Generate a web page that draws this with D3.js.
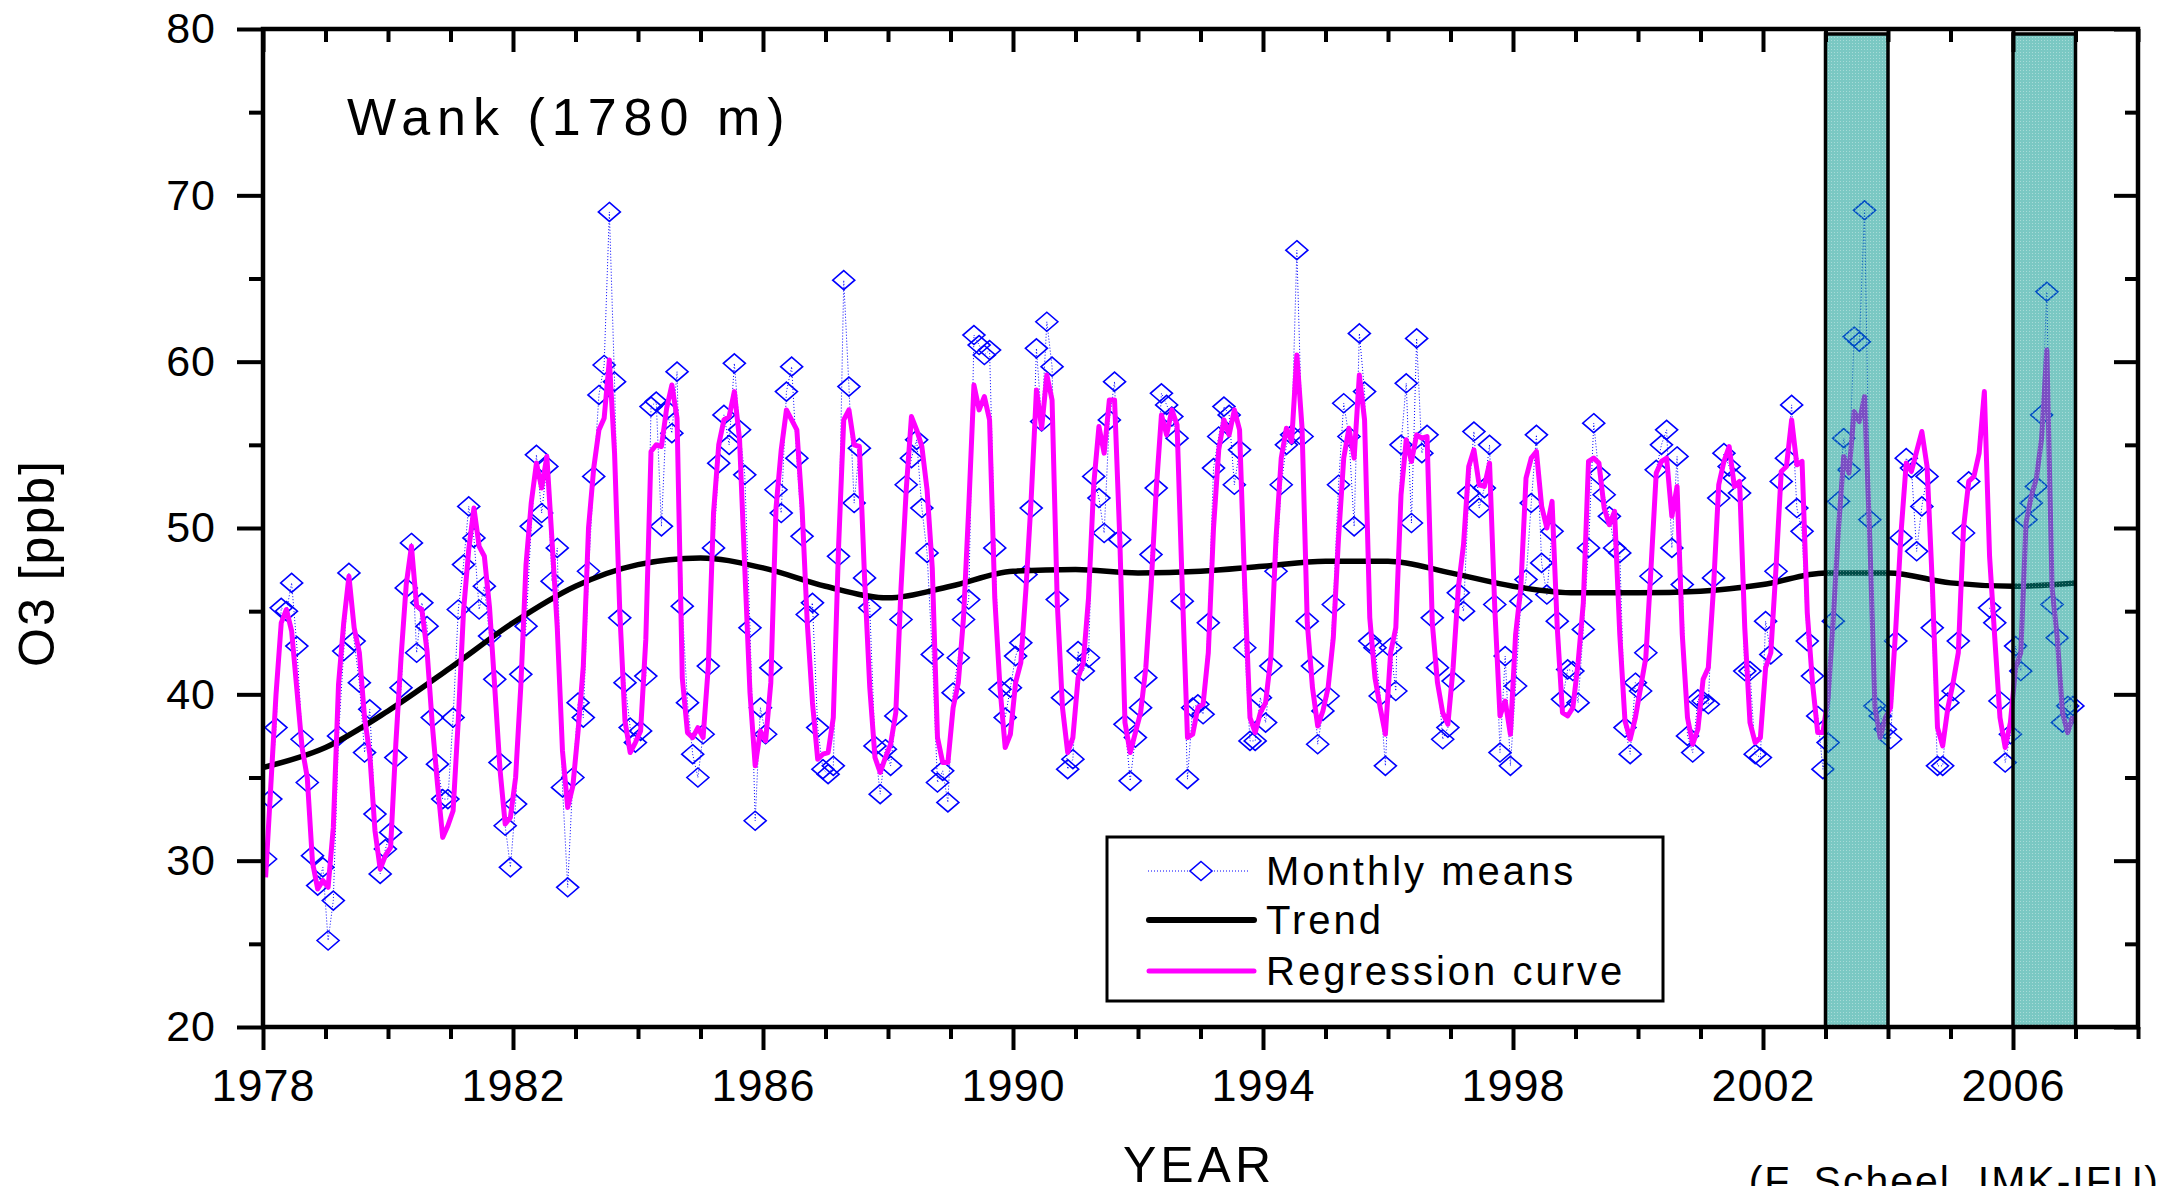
<!DOCTYPE html>
<html><head><meta charset="utf-8">
<script src="https://cdn.jsdelivr.net/npm/d3@7"></script>
<style>
html,body{margin:0;padding:0;background:#fff;}
svg{display:block;}
text{font-family:"Liberation Sans", Arial, sans-serif;fill:#000;}
</style></head><body>
<svg id="chart" width="2167" height="1186"></svg>
<script>
// ---------------- DATA ----------------
const firstYear = 1978;
// monthly means O3 [ppb], one row per year (Jan..Dec), null = no value
const monthlyMeans = [
  [30.1,33.7,38.0,45.2,45.0,46.7,42.9,37.3,34.7,30.3,28.5,29.6], // 1978
  [25.2,27.6,37.5,42.6,47.3,43.2,40.7,36.5,39.1,32.8,29.2,30.7], // 1979
  [31.7,36.2,40.4,46.4,49.1,42.5,45.5,44.1,38.6,35.8,33.7,33.7], // 1980
  [38.6,45.1,47.8,51.3,49.4,45.1,46.5,43.5,40.9,35.9,32.1,29.6], // 1981
  [33.4,41.2,44.1,50.1,54.4,50.9,53.7,46.8,48.8,34.4,28.4,35.0], // 1982
  [39.5,38.6,47.4,53.1,58.0,59.8,69.0,58.8,44.6,40.7,38.0,37.1], // 1983
  [37.8,41.1,57.3,57.6,50.1,57.1,55.7,59.4,45.3,39.5,36.4,35.0], // 1984
  [37.6,41.7,48.8,53.9,56.8,55.0,59.9,55.9,53.2,44.0,32.4,39.2], // 1985
  [37.6,41.6,52.3,50.9,58.2,59.7,54.2,49.5,44.8,45.5,38.0,35.5], // 1986
  [35.2,35.7,48.3,64.9,58.5,51.5,54.8,47.0,45.2,36.9,34.0,36.7], // 1987
  [35.7,38.7,44.5,52.6,54.2,55.3,51.2,48.5,42.4,34.7,35.4,33.5], // 1988
  [40.1,42.2,44.5,45.7,61.6,61.0,60.4,60.7,48.8,40.3,38.6,40.4], // 1989
  [42.3,43.1,47.2,51.2,60.8,56.4,62.4,59.7,45.7,39.8,35.5,36.1], // 1990
  [42.6,41.4,42.2,53.1,51.8,49.7,56.5,58.8,49.3,38.2,34.8,37.4], // 1991
  [39.2,41.0,48.4,52.4,58.1,57.4,56.7,55.4,45.6,34.9,39.2,39.4], // 1992
  [38.8,44.3,53.6,55.5,57.3,56.8,52.6,54.7,42.8,37.2,37.2,39.8], // 1993
  [38.3,41.7,47.4,52.6,55.0,55.6,66.7,55.5,44.4,41.7,37.0,39.0], // 1994
  [39.9,45.4,52.6,57.5,55.5,50.1,61.7,58.2,43.2,42.8,39.9,35.7], // 1995
  [42.8,40.2,55.0,58.7,50.3,61.4,54.5,55.6,44.6,41.6,37.3,38.0], // 1996
  [40.8,46.1,45.0,52.1,55.8,51.2,52.4,55.0,45.4,36.5,42.3,35.7], // 1997
  [40.5,45.6,46.9,51.5,55.6,47.9,46.0,49.8,44.4,39.7,41.5,41.4], // 1998
  [39.5,43.9,48.8,56.3,53.2,52.0,50.7,48.8,48.5,38.0,36.4,40.7], // 1999
  [40.2,42.5,47.1,53.5,55.0,55.9,48.8,54.3,46.6,37.5,36.5,39.7], // 2000
  [39.6,39.4,47.0,51.8,54.5,53.7,53.0,52.1,41.4,41.4,36.4,36.2], // 2001
  [44.4,42.4,47.4,52.8,54.2,57.4,51.2,49.8,43.2,41.1,38.7,35.5], // 2002
  [37.1,44.4,51.6,55.4,53.5,61.5,61.2,69.1,50.5,39.3,38.7,37.9], // 2003
  [37.3,43.2,49.4,54.2,53.6,48.6,51.3,53.1,44.0,35.7,35.7,39.5], // 2004
  [40.2,43.2,49.7,52.8,null,null,null,45.2,44.3,39.6,35.9,37.6], // 2005
  [42.9,41.4,50.5,51.5,52.5,56.8,64.2,45.4,43.4,38.3,39.3,39.3]  // 2006
];
// regression curve, one row per year (Jan..Dec)
const regressionCurve = [
  [29.0,34.5,40.0,44.3,45.1,43.8,40.3,36.8,35.0,29.9,28.3,28.8], // 1978
  [28.4,32.0,40.6,44.3,47.1,44.0,42.5,38.6,36.4,31.8,29.5,30.3], // 1979
  [30.8,37.0,42.2,46.6,48.9,45.3,45.1,42.6,38.2,34.6,31.4,32.1], // 1980
  [33.0,38.5,45.0,48.7,51.2,48.9,48.3,45.2,40.4,35.5,32.2,32.6], // 1981
  [35.0,40.5,47.8,51.5,53.9,52.4,54.3,49.2,44.0,36.6,33.2,34.5], // 1982
  [37.8,41.7,50.0,53.6,55.9,56.6,60.1,54.5,45.0,38.4,36.5,37.1], // 1983
  [37.8,43.3,54.6,55.0,54.9,57.2,58.6,56.6,41.0,37.7,37.4,38.0], // 1984
  [37.4,41.7,50.9,55.0,56.5,56.7,58.2,55.3,47.6,40.1,35.7,37.8], // 1985
  [37.2,40.7,51.2,54.7,57.1,56.5,55.9,51.2,44.3,39.5,36.1,36.4], // 1986
  [36.5,38.6,48.8,56.5,57.1,55.0,54.9,47.0,40.4,36.2,35.3,36.2], // 1987
  [37.0,38.9,46.4,52.3,56.7,55.9,54.9,52.3,47.6,37.4,35.9,35.9], // 1988
  [39.2,40.7,44.6,51.2,58.6,57.1,57.9,56.5,45.8,40.4,36.8,37.6], // 1989
  [40.7,41.9,46.4,51.8,58.3,56.0,59.2,57.7,45.5,39.2,36.5,37.4], // 1990
  [41.0,41.9,45.8,52.6,56.1,54.5,57.7,57.7,49.4,38.3,36.5,37.7], // 1991
  [38.9,41.6,46.4,52.3,56.8,55.6,57.1,56.2,46.4,37.4,37.6,39.2], // 1992
  [39.4,42.5,50.0,54.7,56.5,55.6,57.1,55.9,46.4,38.6,37.7,38.9], // 1993
  [39.5,42.2,49.4,54.2,56.0,55.2,60.4,56.0,44.3,40.4,38.1,39.0], // 1994
  [40.4,43.4,49.4,54.2,56.0,54.2,59.2,56.5,44.6,41.0,39.2,37.6], // 1995
  [42.5,44.0,52.0,55.3,54.0,55.6,55.4,55.5,44.3,40.7,38.9,38.2], // 1996
  [41.6,46.4,49.0,53.7,54.7,52.6,52.5,53.9,45.2,38.7,39.6,37.6], // 1997
  [43.6,46.4,53.0,54.2,54.6,51.3,50.0,51.6,44.0,38.9,38.7,39.2], // 1998
  [41.9,45.5,54.0,54.2,53.9,51.2,50.2,51.0,43.6,38.4,37.3,38.6], // 1999
  [40.4,42.2,47.6,53.3,54.0,54.2,50.7,52.5,43.6,38.6,37.0,37.9], // 2000
  [40.9,41.6,46.4,52.6,54.0,54.9,52.5,52.8,44.0,38.3,37.1,37.4], // 2001
  [41.6,42.5,47.6,53.4,53.7,56.5,53.8,54.0,44.9,40.7,37.7,37.7], // 2002
  [39.8,44.6,50.0,54.3,53.3,57.0,56.4,57.9,49.4,39.2,37.4,38.6], // 2003
  [39.2,44.0,49.7,53.9,53.4,54.6,55.8,53.7,46.7,38.0,36.9,39.2], // 2004
  [40.7,42.5,50.0,52.8,53.1,54.5,58.2,48.3,43.4,38.6,36.8,38.3], // 2005
  [41.6,42.5,50.3,51.9,53.0,55.4,60.7,46.4,43.4,38.9,37.7,38.7]  // 2006
];
// trend, sampled at the start of each year
const trendYears  = [1978,1979,1980,1981,1982,1983,1984,1985,1986,1987,1988,1989,1990,1991,1992,
                     1993,1994,1995,1996,1997,1998,1999,2000,2001,2002,2003,2004,2005,2006,2007];
const trendValues = [35.6,36.8,39.0,41.6,44.3,46.5,47.8,48.2,47.6,46.5,45.8,46.5,47.4,47.5,47.3,
                     47.4,47.7,48.0,48.0,47.3,46.5,46.1,46.1,46.2,46.6,47.3,47.3,46.7,46.5,46.7];
const xTickLabels = [1978,1982,1986,1990,1994,1998,2002,2006];
const yTickLabels = [20,30,40,50,60,70,80];
const highlightStart = [2003, 2006];
const highlightEnd   = [2004, 2007];
const legendLabels = ["Monthly means","Trend","Regression curve"];
const stationTitle = "Wank (1780 m)";
const creditText = "(F. Scheel, IMK-IFU)";

// ---------------- LAYOUT ----------------
const P = {left:263, right:2138, top:29, bottom:1027};
const x = d3.scaleLinear().domain([1978, 2008]).range([P.left, P.right]);
const y = d3.scaleLinear().domain([20, 80]).range([P.bottom, P.top]);
const svg = d3.select("#chart");

const defs = svg.append("defs");
defs.append("clipPath").attr("id","plotclip")
  .append("rect").attr("x",P.left).attr("y",P.top).attr("width",P.right-P.left).attr("height",P.bottom-P.top);
// dotted teal screen used for the highlighted periods
const pat = defs.append("pattern").attr("id","teal").attr("patternUnits","userSpaceOnUse")
  .attr("width",3).attr("height",3);
pat.append("rect").attr("width",3).attr("height",3).attr("fill","rgb(0,150,140)").attr("fill-opacity",0.52);
pat.append("rect").attr("x",1).attr("y",1).attr("width",1).attr("height",1).attr("fill","#fff").attr("fill-opacity",0.35);

const monthlyPts = [], regPts = [];
monthlyMeans.forEach((row,i)=>row.forEach((v,m)=>monthlyPts.push({t:firstYear+i+(m+0.5)/12, v})));
regressionCurve.forEach((row,i)=>row.forEach((v,m)=>regPts.push({t:firstYear+i+(m+0.5)/12, v})));
const trendPts = trendYears.map((t,i)=>({t, v:trendValues[i]}));

const plot = svg.append("g").attr("clip-path","url(#plotclip)");
const lineGen = d3.line().defined(d=>d.v!=null).x(d=>x(d.t)).y(d=>y(d.v));

// monthly means: dotted line + diamonds
plot.append("path").datum(monthlyPts).attr("d",lineGen)
  .attr("fill","none").attr("stroke","#0000ff").attr("stroke-width",1).attr("stroke-dasharray","1,2");
const diamond = "M0,-9.5L11,0L0,9.5L-11,0Z";
plot.selectAll("path.dm").data(monthlyPts.filter(d=>d.v!=null)).join("path").attr("class","dm")
  .attr("d",diamond).attr("transform",d=>`translate(${x(d.t)},${y(d.v)})`)
  .attr("fill","none").attr("stroke","#0000ff").attr("stroke-width",1.6);

// trend
plot.append("path").datum(trendPts)
  .attr("d", d3.line().curve(d3.curveMonotoneX).x(d=>x(d.t)).y(d=>y(d.v)))
  .attr("fill","none").attr("stroke","#000").attr("stroke-width",5.5).attr("stroke-linejoin","round");

// regression
plot.append("path").datum(regPts).attr("d",lineGen)
  .attr("fill","none").attr("stroke","#ff00ff").attr("stroke-width",5).attr("stroke-linejoin","round");

// highlighted periods (drawn over the data, semi-transparent screen)
highlightStart.forEach((s,i)=>{
  svg.append("rect").attr("x",x(s)).attr("y",y(79.7))
    .attr("width",x(highlightEnd[i])-x(s)).attr("height",y(20)-y(79.7))
    .attr("fill","url(#teal)")
    .attr("stroke","#000").attr("stroke-width",3.5);
});

// ---------------- AXES ----------------
function styleAxis(g, keepText){
  g.select(".domain").remove();
  g.selectAll(".tick line").attr("stroke","#000").attr("stroke-width",4);
  if(!keepText) g.selectAll(".tick text").remove();
}
const yMinor = [25,35,45,55,65,75];
const xMinor = d3.range(1979, 2009).filter(v => !xTickLabels.includes(v));

svg.append("g").attr("transform",`translate(${P.left},0)`)
  .call(d3.axisLeft(y).tickValues(yTickLabels).tickSize(26).tickSizeOuter(0).tickPadding(21))
  .call(g=>{styleAxis(g,true); g.selectAll("text").attr("font-size",43).attr("font-family","Liberation Sans, Arial").attr("letter-spacing",1).attr("fill","#000");});
svg.append("g").attr("transform",`translate(${P.left},0)`)
  .call(d3.axisLeft(y).tickValues(yMinor).tickSize(14).tickSizeOuter(0)).call(g=>styleAxis(g,false));

svg.append("g").attr("transform",`translate(${P.right},0)`)
  .call(d3.axisRight(y).tickValues(yTickLabels).tickSize(-24).tickSizeOuter(0)).call(g=>styleAxis(g,false));
svg.append("g").attr("transform",`translate(${P.right},0)`)
  .call(d3.axisRight(y).tickValues(yMinor).tickSize(-13).tickSizeOuter(0)).call(g=>styleAxis(g,false));

svg.append("g").attr("transform",`translate(0,${P.bottom})`)
  .call(d3.axisBottom(x).tickValues(xTickLabels).tickFormat(d3.format("d")).tickSize(23).tickSizeOuter(0).tickPadding(19))
  .call(g=>{styleAxis(g,true); g.selectAll("text").attr("font-size",45).attr("font-family","Liberation Sans, Arial").attr("letter-spacing",1).attr("fill","#000");});
svg.append("g").attr("transform",`translate(0,${P.bottom})`)
  .call(d3.axisBottom(x).tickValues(xMinor).tickSize(12).tickSizeOuter(0)).call(g=>styleAxis(g,false));

svg.append("g").attr("transform",`translate(0,${P.top})`)
  .call(d3.axisTop(x).tickValues(xTickLabels).tickSize(-23).tickSizeOuter(0)).call(g=>styleAxis(g,false));
svg.append("g").attr("transform",`translate(0,${P.top})`)
  .call(d3.axisTop(x).tickValues(xMinor).tickSize(-13).tickSizeOuter(0)).call(g=>styleAxis(g,false));

// frame
svg.append("rect").attr("x",P.left).attr("y",P.top).attr("width",P.right-P.left).attr("height",P.bottom-P.top)
  .attr("fill","none").attr("stroke","#000").attr("stroke-width",4.5);

// ---------------- TEXTS ----------------
svg.append("text").attr("x",347).attr("y",135).attr("font-size",52).attr("letter-spacing",7).text(stationTitle);
svg.append("text").attr("transform","translate(54,563) rotate(-90)").attr("text-anchor","middle")
  .attr("font-size",50).attr("letter-spacing",2).text("O3 [ppb]");
svg.append("text").attr("x",1199).attr("y",1182).attr("text-anchor","middle")
  .attr("font-size",50).attr("letter-spacing",4).text("YEAR");
svg.append("text").attr("x",2160).attr("y",1195).attr("text-anchor","end")
  .attr("font-size",41).attr("letter-spacing",2).text(creditText);

// ---------------- LEGEND ----------------
const lg = svg.append("g");
lg.append("rect").attr("x",1107).attr("y",837).attr("width",556).attr("height",164)
  .attr("fill","#fff").attr("stroke","#000").attr("stroke-width",3);
const rowsY = [871, 920, 971];
lg.append("line").attr("x1",1148).attr("x2",1250).attr("y1",rowsY[0]).attr("y2",rowsY[0])
  .attr("stroke","#0000ff").attr("stroke-width",1).attr("stroke-dasharray","1,2");
lg.append("path").attr("d",diamond).attr("transform",`translate(1201,${rowsY[0]})`)
  .attr("fill","#fff").attr("stroke","#0000ff").attr("stroke-width",1.6);
lg.append("line").attr("x1",1149).attr("x2",1254).attr("y1",rowsY[1]).attr("y2",rowsY[1])
  .attr("stroke","#000").attr("stroke-width",6).attr("stroke-linecap","round");
lg.append("line").attr("x1",1149).attr("x2",1254).attr("y1",rowsY[2]).attr("y2",rowsY[2])
  .attr("stroke","#ff00ff").attr("stroke-width",5).attr("stroke-linecap","round");
legendLabels.forEach((t,i)=>{
  lg.append("text").attr("x",1266).attr("y",rowsY[i]+14).attr("font-size",40).attr("letter-spacing",3).text(t);
});
</script>
</body></html>
